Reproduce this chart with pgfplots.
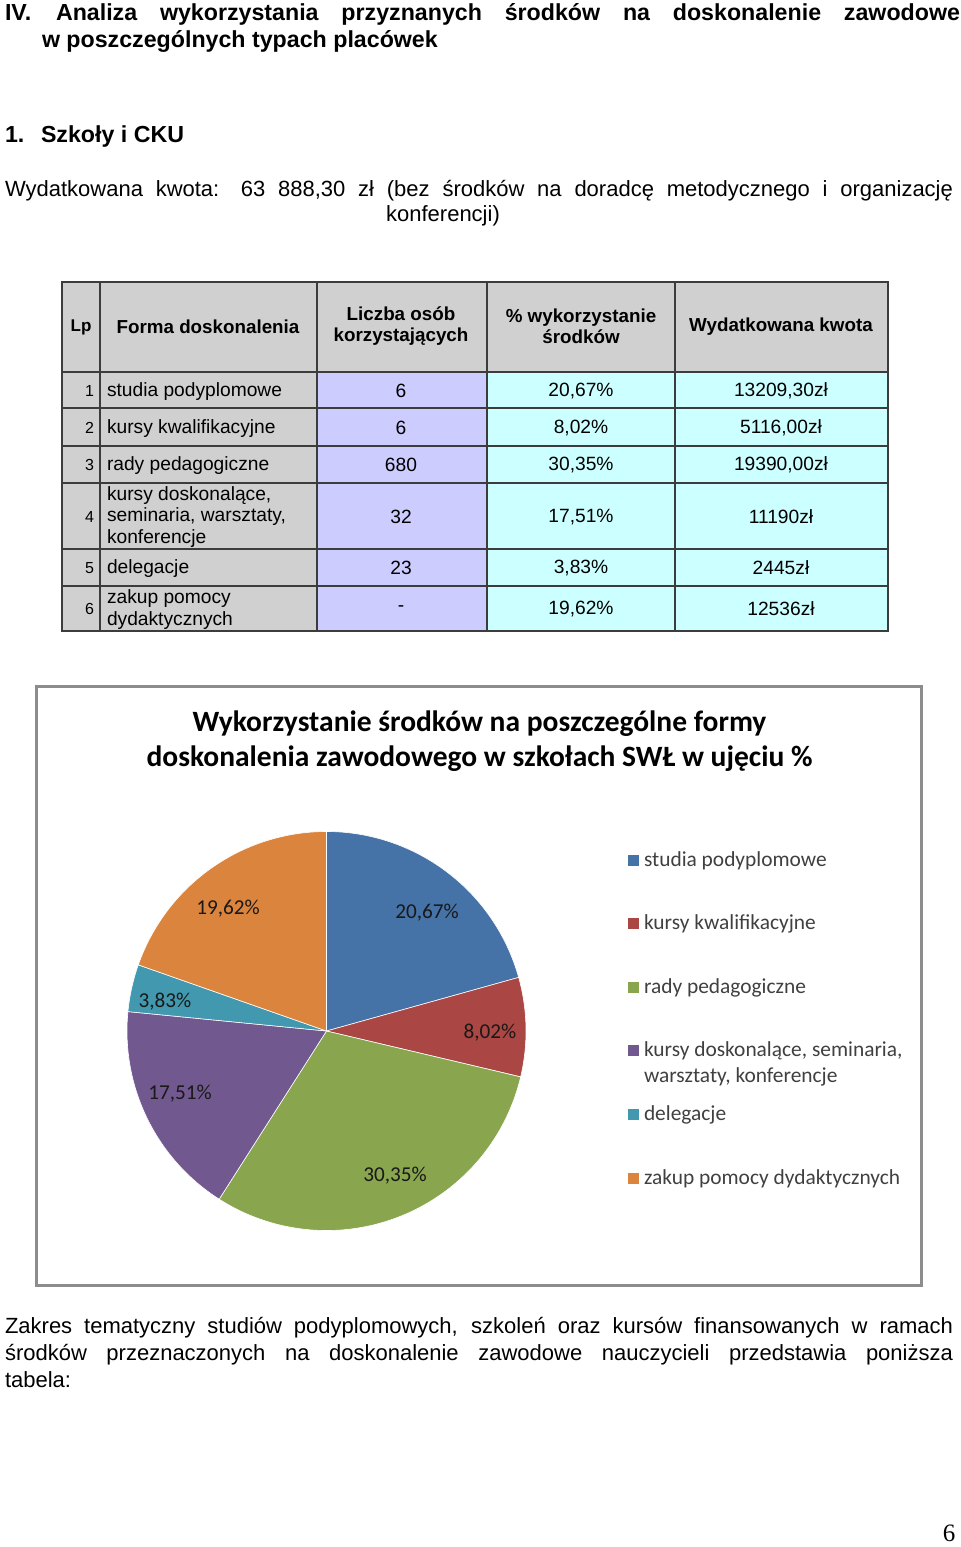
\documentclass[border=0pt]{standalone}
\usepackage{fontspec}
\usepackage{pgfplots}
\pgfplotsset{compat=1.18}
\setmainfont{Liberation Sans}
\newfontfamily\carl{Carlito}
\newfontfamily\serifpn{Liberation Serif}

\definecolor{cA}{HTML}{4572A7}
\definecolor{cB}{HTML}{AA4643}
\definecolor{cC}{HTML}{89A54E}
\definecolor{cD}{HTML}{71588F}
\definecolor{cE}{HTML}{4198AF}
\definecolor{cF}{HTML}{DB843D}
\definecolor{tgray}{HTML}{D0D0D0}
\definecolor{tlav}{HTML}{CCCCFF}
\definecolor{tcyan}{HTML}{CCFFFF}
\definecolor{tline}{HTML}{3C3C3C}
\definecolor{frame}{HTML}{8C8C8C}
\definecolor{legtext}{HTML}{404040}

% shares of the pie (percent)
\def\pA{20.67}\def\pB{8.02}\def\pC{30.35}\def\pD{17.51}\def\pE{3.83}\def\pF{19.62}
\pgfmathsetmacro\aA{90-3.6*\pA}
\pgfmathsetmacro\aB{\aA-3.6*\pB}
\pgfmathsetmacro\aC{\aB-3.6*\pC}
\pgfmathsetmacro\aD{\aC-3.6*\pD}
\pgfmathsetmacro\aE{\aD-3.6*\pE}
\pgfmathsetmacro\aF{\aE-3.6*\pF}

\begin{document}
\begin{tikzpicture}[x=0.5pt,y=-0.5pt,
  every node/.style={inner sep=0pt,outer sep=0pt},
  hdr/.style={font=\bfseries\fontsize{11.6}{13.5}\selectfont},
  body/.style={font=\fontsize{11}{13.5}\selectfont},
  th/.style={font=\bfseries\fontsize{9.4}{10.6}\selectfont,align=center},
  td/.style={font=\fontsize{9.6}{10.6}\selectfont,align=left},
  tn/.style={font=\fontsize{8}{10}\selectfont},
  pl/.style={font=\carl\fontsize{10.6}{12}\selectfont,text=black!90},
  lg/.style={font=\carl\fontsize{10.7}{12}\selectfont,text=legtext,anchor=mid west}]
\path[use as bounding box,fill=white] (0,0) rectangle (960,1547);

% ---- page header ----
\node[hdr,anchor=mid west] at (5,15) {IV.};
\node[hdr,anchor=mid west] at (56,15) {\makebox[452pt][s]{Analiza wykorzystania przyznanych środków na doskonalenie zawodowe}};
\node[hdr,anchor=mid west] at (42,42) {w poszczególnych typach placówek};
\node[hdr,anchor=mid west] at (5,137) {1.};
\node[hdr,anchor=mid west] at (41,137) {Szkoły i CKU};
\node[body,anchor=mid west] at (5,191) {\makebox[474pt][s]{Wydatkowana kwota: 63 888,30 zł (bez środków na doradcę metodycznego i organizację}};
\node[body] at (443,216) {konferencji)};

% ---- table ----
\fill[tgray] (62,282) rectangle (888,372);
\fill[tgray] (62,372) rectangle (317,631);
\fill[tlav] (317,372) rectangle (487,631);
\fill[tcyan] (487,372) rectangle (888,631);
\begin{scope}[draw=tline,line width=1pt]
\draw (62,282) rectangle (888,631);
\foreach \yy in {372,408,446,483,549,586} \draw (62,\yy) -- (888,\yy);
\foreach \xx in {100,317,487,675} \draw (\xx,282) -- (\xx,631);
\end{scope}
\node[th,font=\bfseries\fontsize{8.5}{10}\selectfont] at (81,327) {Lp};
\node[th] at (208,327) {Forma doskonalenia};
\node[th] at (401,326) {Liczba osób\\korzystających};
\node[th] at (581,326) {\% wykorzystanie\\środków};
\node[th] at (781,327) {Wydatkowana kwota};
% rows
\node[tn,anchor=east] at (94,391) {1};
\node[tn,anchor=east] at (94,428) {2};
\node[tn,anchor=east] at (94,465) {3};
\node[tn,anchor=east] at (94,517) {4};
\node[tn,anchor=east] at (94,568) {5};
\node[tn,anchor=east] at (94,609) {6};
\node[td,anchor=west] at (107,392) {studia podyplomowe};
\node[td,anchor=west] at (107,429) {kursy kwalifikacyjne};
\node[td,anchor=west] at (107,466) {rady pedagogiczne};
\node[td,anchor=west] at (107,517) {kursy doskonalące,\\seminaria, warsztaty,\\konferencje};
\node[td,anchor=west] at (107,569) {delegacje};
\node[td,anchor=west] at (107,609.5) {zakup pomocy\\dydaktycznych};
\foreach \yy/\nn/\pp/\kk in {391/6/{20,67\%}/{13209,30zł}, 428/6/{8,02\%}/{5116,00zł}, 465/680/{30,35\%}/{19390,00zł}, 517/32/{17,51\%}/{11190zł}, 568/23/{3,83\%}/{2445zł}, 609/-/{19,62\%}/{12536zł}}{
  \node[td] at (401,\yy) {\nn};
  \node[td] at (581,\yy) {\pp};
  \node[td] at (781,\yy) {\kk};
}

% ---- chart frame ----
\draw[frame,line width=1.5pt,fill=white] (36,686) rectangle (921,1285);
\node[font=\carl\bfseries\fontsize{14.75}{17.5}\selectfont,align=center] at (479.5,741)
  {Wykorzystanie środków na poszczególne formy\\doskonalenia zawodowego w szkołach SWŁ w ujęciu \%};

% ---- pie ----
\coordinate (pc) at (326.5,1031);
\begin{axis}[at={(pc)},anchor=center,width=199.5pt,height=199.5pt,scale only axis,
  xmin=-1,xmax=1,ymin=-1,ymax=1,hide axis,clip=false]
\addplot[fill=cA,draw=white,line width=0.3pt,domain=\aA:90,samples=80,variable=\t] ({cos(\t)},{sin(\t)}) -- (axis cs:0,0) -- cycle;
\addplot[fill=cB,draw=white,line width=0.3pt,domain=\aB:\aA,samples=40,variable=\t] ({cos(\t)},{sin(\t)}) -- (axis cs:0,0) -- cycle;
\addplot[fill=cC,draw=white,line width=0.3pt,domain=\aC:\aB,samples=100,variable=\t] ({cos(\t)},{sin(\t)}) -- (axis cs:0,0) -- cycle;
\addplot[fill=cD,draw=white,line width=0.3pt,domain=\aD:\aC,samples=60,variable=\t] ({cos(\t)},{sin(\t)}) -- (axis cs:0,0) -- cycle;
\addplot[fill=cE,draw=white,line width=0.3pt,domain=\aE:\aD,samples=20,variable=\t] ({cos(\t)},{sin(\t)}) -- (axis cs:0,0) -- cycle;
\addplot[fill=cF,draw=white,line width=0.3pt,domain=\aF:\aE,samples=70,variable=\t] ({cos(\t)},{sin(\t)}) -- (axis cs:0,0) -- cycle;
\end{axis}
\node[pl] at (427,913) {20,67\%};
\node[pl] at (490,1033) {8,02\%};
\node[pl] at (395,1176) {30,35\%};
\node[pl] at (180,1094) {17,51\%};
\node[pl] at (165,1002) {3,83\%};
\node[pl] at (228,909) {19,62\%};

% ---- legend ----
\foreach \yy/\cc/\tt in {860/cA/{studia podyplomowe}, 923/cB/{kursy kwalifikacyjne}, 987/cC/{rady pedagogiczne}, 1050/cD/{kursy doskonalące, seminaria,}, 1114/cE/{delegacje}, 1178/cF/{zakup pomocy dydaktycznych}}{
  \fill[\cc] (628,\yy-5.5) rectangle (639,\yy+5.5);
  \node[lg] at (644,\yy+1.5) {\tt};
}
\node[lg] at (644,1077.5) {warsztaty, konferencje};

% ---- closing paragraph ----
\node[body,anchor=mid west] at (5,1328) {\makebox[474pt][s]{Zakres tematyczny studiów podyplomowych, szkoleń oraz kursów finansowanych w ramach}};
\node[body,anchor=mid west] at (5,1355) {\makebox[474pt][s]{środków przeznaczonych na doskonalenie zawodowe nauczycieli przedstawia poniższa}};
\node[body,anchor=mid west] at (5,1382) {tabela:};
\node[font=\serifpn\fontsize{12.5}{14}\selectfont] at (949,1533) {6};
\end{tikzpicture}
\end{document}
